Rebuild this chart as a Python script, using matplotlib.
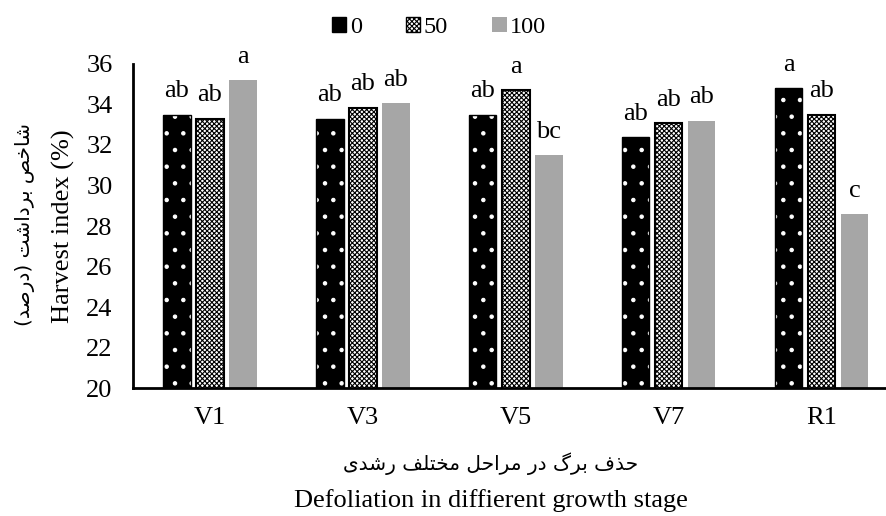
import numpy as np
import matplotlib
matplotlib.use('Agg')
import matplotlib.pyplot as plt
from matplotlib.patches import Patch

stages = ['V1', 'V3', 'V5', 'V7', 'R1']
levels = ['0', '50', '100']
hi_0 = [33.5, 33.3, 33.5, 32.4, 34.8]
hi_50 = [33.3, 33.85, 34.7, 33.1, 33.5]
hi_100 = [35.2, 34.05, 31.5, 33.2, 28.6]
let_0 = ['ab', 'ab', 'ab', 'ab', 'a']
let_50 = ['ab', 'ab', 'a', 'ab', 'ab']
let_100 = ['a', 'ab', 'bc', 'ab', 'c']


def fa(words):
    # words as lists of presentation-form glyphs (logical order) -> visual LTR string
    s = ' '.join(''.join(w) for w in words)
    s = s[::-1]
    return s.translate(str.maketrans('()', ')('))


# شاخص برداشت (درصد)
ylab_fa = fa([['\uFEB7', '\uFE8E', '\uFEA7', '\uFEBA'],
              ['\uFE91', '\uFEAE', '\uFEA9', '\uFE8D', '\uFEB7', '\uFE96'],
              ['(', '\uFEA9', '\uFEAD', '\uFEBB', '\uFEAA', ')']])
# حذف برگ در مراحل مختلف رشدی
xlab_fa = fa([['\uFEA3', '\uFEAC', '\uFED1'],
              ['\uFE91', '\uFEAE', '\uFB92'],
              ['\uFEA9', '\uFEAD'],
              ['\uFEE3', '\uFEAE', '\uFE8D', '\uFEA3', '\uFEDE'],
              ['\uFEE3', '\uFEA8', '\uFE98', '\uFEE0', '\uFED2'],
              ['\uFEAD', '\uFEB7', '\uFEAA', '\uFBFC']])

plt.rcParams['font.family'] = ['Liberation Serif', 'DejaVu Sans']
plt.rcParams['hatch.linewidth'] = 0.8

fig = plt.figure(figsize=(8.87, 5.16), dpi=100)
ax = fig.add_axes([0.1505, 0.248, 0.8619, 0.628])

x = np.arange(len(stages))
w = 0.18
off = 0.216
fs = 19

# 0: black with white dots
ax.bar(x - off, hi_0, w, color='black', edgecolor='white', hatch='.', linewidth=0, zorder=2)
ax.bar(x - off, hi_0, w, fill=False, edgecolor='black', linewidth=1, zorder=3)
# 50: fine checker
ax.bar(x, hi_50, w, color='white', edgecolor='black', hatch='xxxxxxx', linewidth=1.5, zorder=2)
# 100: gray
ax.bar(x + off, hi_100, w, color='#a6a6a6', linewidth=0, zorder=2)

for xs, vals, labs in [(x - off, hi_0, let_0), (x, hi_50, let_50), (x + off, hi_100, let_100)]:
    for xi, v, t in zip(xs, vals, labs):
        ax.text(xi, v + 0.85, t, ha='center', va='baseline', fontsize=fs)

ax.set_ylim(20, 36)
ax.set_yticks(np.arange(20, 37, 2))
ax.set_xlim(-0.5, 4.5)
ax.set_xticks(x)
ax.set_xticklabels(stages)
ax.tick_params(axis='y', length=0, labelsize=fs, pad=15)
ax.tick_params(axis='x', length=0, labelsize=fs, pad=14)
for s in ['top', 'right']:
    ax.spines[s].set_visible(False)
for s in ['left', 'bottom']:
    ax.spines[s].set_linewidth(2)

fig.text(0.072, 0.562, 'Harvest index (%)', rotation=90, ha='center', va='center', fontsize=fs)
fig.text(0.028, 0.565, ylab_fa, rotation=90, ha='center', va='center', fontsize=14.5,
         family=['DejaVu Sans'])
fig.text(0.553, 0.089, xlab_fa, ha='center', va='baseline', fontsize=14.5, family=['DejaVu Sans'])
fig.text(0.553, 0.017, 'Defoliation in diffierent growth stage', ha='center', va='baseline', fontsize=fs)

handles = [Patch(facecolor='black', edgecolor='black'),
           Patch(facecolor='white', edgecolor='black', hatch='xxxxxxx'),
           Patch(facecolor='#a6a6a6', edgecolor='none')]
fig.legend(handles, levels, loc='upper center', bbox_to_anchor=(0.495, 1.01), ncol=3, frameon=False,
           fontsize=17.5, handlelength=0.6, handleheight=0.6, handletextpad=0.15, columnspacing=1.8)

fig.savefig('out.png', dpi=100)
